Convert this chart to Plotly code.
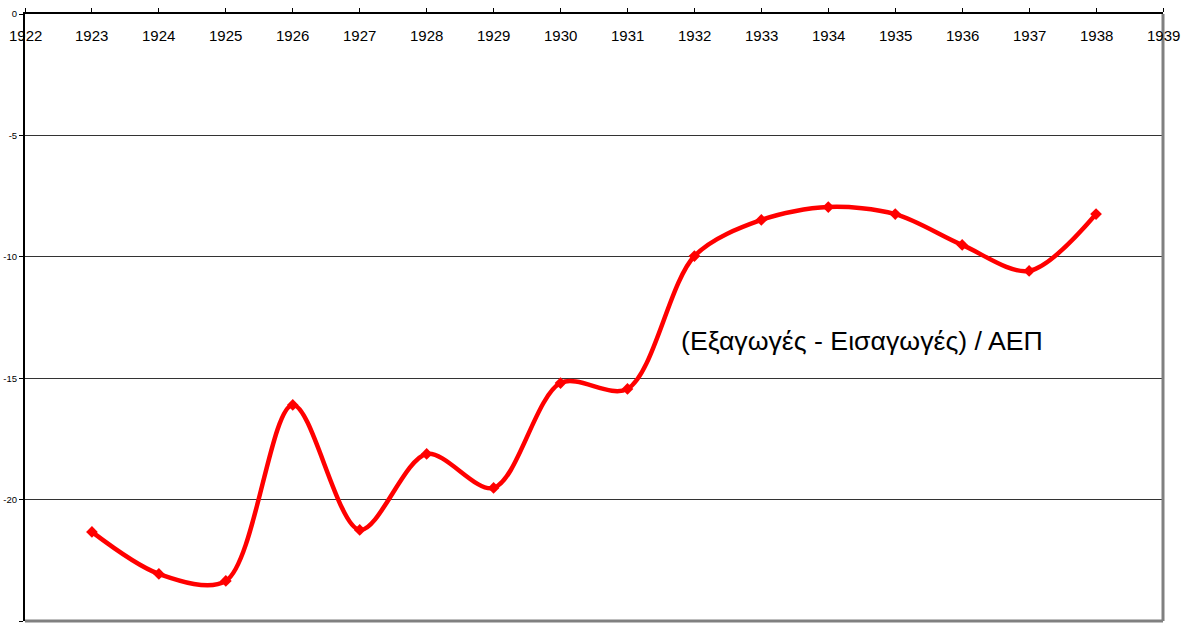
import plotly.graph_objects as go

years = [1923, 1924, 1925, 1926, 1927, 1928, 1929, 1930, 1931, 1932, 1933, 1934, 1935, 1936, 1937, 1938]
values = [-21.33, -23.06, -23.35, -16.1, -21.25, -18.12, -19.52, -15.2, -15.44, -9.97, -8.48, -7.95, -8.24, -9.51, -10.58, -8.24]
x_ticks = list(range(1922, 1940))
y_ticks = [0, -5, -10, -15, -20, -25]
label = "(Εξαγωγές - Εισαγωγές) / ΑΕΠ"

fig = go.Figure()
fig.add_trace(go.Scatter(
    x=years, y=values, mode="lines+markers",
    line=dict(color="#ff0000", width=4.5, shape="spline", smoothing=0.9),
    marker=dict(symbol="diamond", size=9, color="#ff0000"),
    showlegend=False, hoverinfo="x+y",
))

fig.add_annotation(
    x=1931.77, y=-13.45, xref="x", yref="y", text=label, showarrow=False,
    xanchor="left", yanchor="middle",
    font=dict(family="Liberation Sans, Arial", size=26.7, color="#000000"),
)

# x tick labels sit just below the top axis line, inside the plot
for t in x_ticks:
    fig.add_annotation(
        x=t, y=1, xref="x", yref="paper", text=str(t), showarrow=False,
        xanchor="center", yanchor="middle", yshift=-21,
        font=dict(family="Liberation Sans, Arial", size=15, color="#000000"),
    )

# right and bottom grey borders (shadow-like frame)
fig.add_shape(type="line", xref="paper", yref="paper", x0=1, x1=1, y0=0, y1=1,
              line=dict(color="#808080", width=3))
fig.add_shape(type="line", xref="paper", yref="paper", x0=0, x1=1, y0=0, y1=0,
              line=dict(color="#808080", width=3))

fig.update_layout(
    width=1184, height=623,
    margin=dict(l=25, r=21, t=14, b=2, pad=0),
    paper_bgcolor="white", plot_bgcolor="white",
    font=dict(family="Liberation Sans, Arial", color="#000000"),
    xaxis=dict(
        range=[1922, 1939], side="top", tickmode="array", tickvals=x_ticks,
        showticklabels=False, automargin=False,
        ticks="outside", ticklen=4, tickcolor="#000",
        showline=True, linecolor="#000", linewidth=2, showgrid=False, zeroline=False,
    ),
    yaxis=dict(
        range=[-25, 0], tickmode="array", tickvals=y_ticks,
        ticktext=[str(v) for v in y_ticks], automargin=False,
        ticks="outside", ticklen=4, tickcolor="#000",
        showline=True, linecolor="#000", linewidth=2,
        showgrid=True, gridcolor="#333333", gridwidth=1, zeroline=False,
        tickfont=dict(size=9.5, family="Liberation Sans, Arial", color="#000"),
    ),
)

fig.write_html(
    "out.html",
    config={"displayModeBar": False},
    post_script="document.body.style.margin='0';document.body.style.overflow='hidden';",
)
